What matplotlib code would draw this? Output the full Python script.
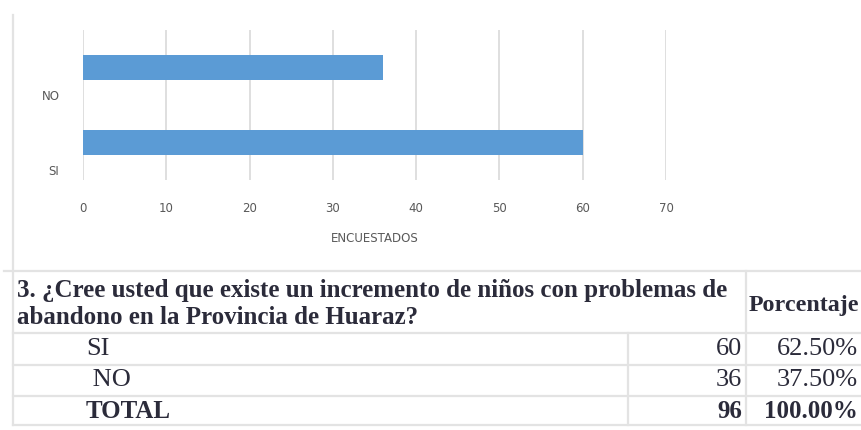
import matplotlib.pyplot as plt
import numpy as np

# chart data
categories = ['SI', 'NO']
encuestados = [60, 36]
x_ticks = [0, 10, 20, 30, 40, 50, 60, 70]

# table data
question = ['3. ¿Cree usted que existe un incremento de niños con problemas de',
            'abandono en la Provincia de Huaraz?']
row_labels = ['SI', ' NO', 'TOTAL']
row_counts = ['60', '36', '96']
row_pcts = ['62.50%', '37.50%', '100.00%']

W, H = 861, 430
fig = plt.figure(figsize=(W / 100, H / 100), dpi=100)

# ---------------- bar chart ----------------
ax = fig.add_axes([83 / W, 1 - 180 / H, (666 - 83) / W, 150 / H])
ypos = np.arange(len(categories))
ax.barh(ypos, encuestados, height=0.33, color='#5B9BD5', zorder=3)
ax.set_xlim(0, 70)
ax.set_ylim(-0.5, 1.5)
ax.set_xticks(x_ticks)
ax.set_yticks(ypos - 0.367)
ax.set_yticklabels(categories)
ax.grid(axis='x', color='#d9d9d9', linewidth=1.2, zorder=0)
for s in ax.spines.values():
    s.set_visible(False)
ax.tick_params(length=0, labelsize=8.5, labelcolor='#595959')
ax.tick_params(axis='x', pad=16)
ax.tick_params(axis='y', pad=17)
ax.set_xlabel('ENCUESTADOS', fontsize=8.5, color='#595959', labelpad=12)

# ---------------- table (pixel overlay) ----------------
ov = fig.add_axes([0, 0, 1, 1], zorder=5)
ov.set_xlim(0, W)
ov.set_ylim(H, 0)
ov.axis('off')
ov.patch.set_alpha(0)

lc = '#e3e3e3'
lw = 1.6
ov.plot([13, 13], [15, 425], color=lc, lw=lw)
for y in [271, 333, 365, 396, 425]:
    ov.plot([4 if y == 271 else 13, W], [y, y], color=lc, lw=lw)
ov.plot([628, 628], [333, 425], color=lc, lw=lw)
ov.plot([746, 746], [271, 425], color=lc, lw=lw)

tc = '#2b2b3a'
serif = 'Liberation Serif'
ov.text(17, 290, question[0], fontsize=18, fontweight='bold', family=serif,
        color=tc, va='center', ha='left')
ov.text(17, 318, question[1], fontsize=18, fontweight='bold', family=serif,
        color=tc, va='center', ha='left')
ov.text(749, 305, 'Porcentaje', fontsize=17.3, fontweight='bold', family=serif,
        color=tc, va='center', ha='left')

row_y = [349, 380, 411]
for i, y in enumerate(row_y):
    bold = 'bold' if i == 2 else 'normal'
    fs = 18 if i == 2 else 19
    ov.text(86, y, row_labels[i], fontsize=fs, fontweight=bold, family=serif,
            color=tc, va='center', ha='left')
    ov.text(742, y, row_counts[i], fontsize=fs, fontweight=bold, family=serif,
            color=tc, va='center', ha='right')
    ov.text(858, y, row_pcts[i], fontsize=fs, fontweight=bold, family=serif,
            color=tc, va='center', ha='right')

fig.savefig('out.png', dpi=100)
